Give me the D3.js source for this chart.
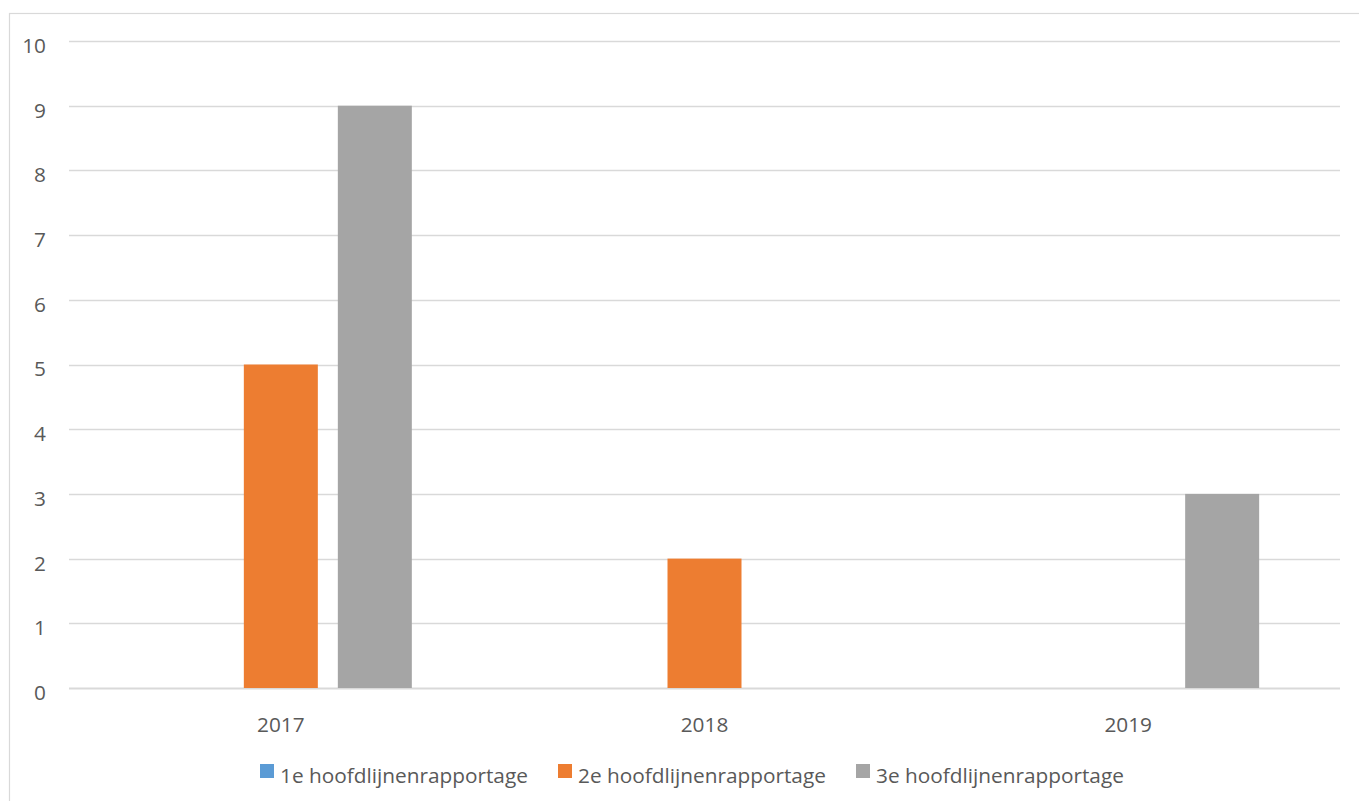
<!DOCTYPE html>
<html>
<head>
<meta charset="utf-8">
<script src="https://cdn.jsdelivr.net/npm/d3@7"></script>
<style>
  html, body { margin: 0; padding: 0; background: #fff; }
  svg { display: block; }
  text { font-family: "Open Sans", "Liberation Sans", sans-serif; fill: #595959; }
</style>
</head>
<body>
<svg id="chart" width="1359" height="801"></svg>
<script>
// Years on the category axis
const categories = ["2017", "2018", "2019"];
// Report series and their values per year
const seriesNames = ["1e hoofdlijnenrapportage", "2e hoofdlijnenrapportage", "3e hoofdlijnenrapportage"];
const series1 = [0, 0, 0];
const series2 = [5, 2, 0];
const series3 = [9, 0, 3];
const seriesColors = ["#5B9BD5", "#ED7D31", "#A5A5A5"];
// Value axis ticks
const yTicks = [0, 1, 2, 3, 4, 5, 6, 7, 8, 9, 10];

const seriesValues = [series1, series2, series3];
const data = categories.map((c, i) => ({
  year: c,
  values: seriesNames.map((s, j) => ({ key: s, value: seriesValues[j][i], color: seriesColors[j] }))
}));

const svg = d3.select("#chart");
const W = 1359, H = 801;
const plot = { left: 69, right: 1340, top: 41, bottom: 688 };
const fontSize = 20.8;

// Chart area frame
svg.append("rect")
  .attr("x", 9.5).attr("y", 13.5)
  .attr("width", W).attr("height", H)
  .attr("fill", "#fff").attr("stroke", "#D9D9D9").attr("stroke-width", 1.2);

const x0 = d3.scaleBand().domain(categories).range([plot.left, plot.right]).paddingInner(0).paddingOuter(0);
const x1 = d3.scaleBand().domain(seriesNames).range([0, x0.bandwidth()])
  .paddingInner(0.2128).paddingOuter(0.86);
const y = d3.scaleLinear().domain([0, 10]).range([plot.bottom, plot.top]);

// Horizontal gridlines
svg.append("g").selectAll("line").data(yTicks).join("line")
  .attr("x1", plot.left).attr("x2", plot.right)
  .attr("y1", d => Math.round(y(d)) + 0.5).attr("y2", d => Math.round(y(d)) + 0.5)
  .attr("stroke", "#D9D9D9").attr("stroke-width", d => d === 0 ? 1.8 : 1.4);

// Value axis labels
const yAxis = d3.axisLeft(y).tickValues(yTicks).tickSize(0).tickPadding(0).tickFormat(d3.format("d"));
const gy = svg.append("g").attr("transform", `translate(46,0)`).call(yAxis);
gy.select(".domain").remove();
gy.selectAll("text")
  .attr("font-size", fontSize).attr("dy", "0.55em").attr("fill", "#595959")
  .style("font-family", '"Open Sans", sans-serif');

// Bars
const groups = svg.append("g").selectAll("g").data(data).join("g")
  .attr("transform", d => `translate(${x0(d.year)},0)`);
groups.selectAll("rect").data(d => d.values).join("rect")
  .attr("x", d => x1(d.key))
  .attr("width", x1.bandwidth())
  .attr("y", d => y(d.value))
  .attr("height", d => y(0) - y(d.value))
  .attr("fill", d => d.color);

// Category axis labels
const xAxis = d3.axisBottom(x0).tickSize(0).tickPadding(0);
const gx = svg.append("g").attr("transform", `translate(0,${plot.bottom})`).call(xAxis);
gx.select(".domain").remove();
gx.selectAll("text")
  .attr("font-size", fontSize).attr("y", 44).attr("dy", 0).attr("fill", "#595959")
  .style("font-family", '"Open Sans", sans-serif');

// Legend
const legendX = [260, 558, 856];
const legend = svg.append("g").selectAll("g").data(seriesNames).join("g")
  .attr("transform", (d, i) => `translate(${legendX[i]},764)`);
legend.append("rect").attr("width", 14).attr("height", 14).attr("fill", (d, i) => seriesColors[i]);
legend.append("text").attr("x", 20).attr("y", 18.5)
  .attr("font-size", fontSize).text(d => d);
</script>
</body>
</html>
